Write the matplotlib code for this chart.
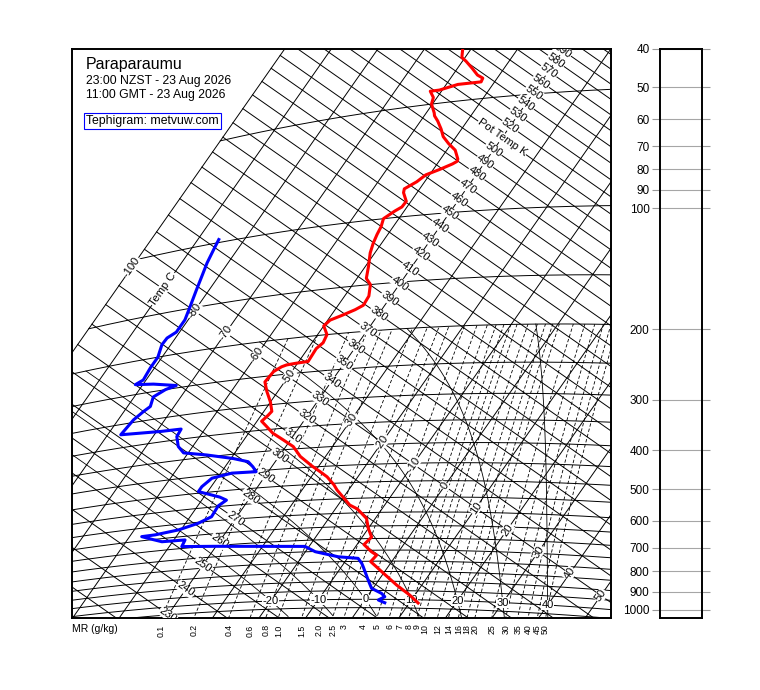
import numpy as np
import matplotlib
matplotlib.use('Agg')
import matplotlib.pyplot as plt

plt.rcParams['font.family'] = ['Liberation Sans', 'DejaVu Sans']

# tephigram geometry: T along one axis, ln(theta) along the other, turned by 35 deg
KAPPA = 0.2857
ANG = np.deg2rad(35.0)
TH_SCALE = 191.5
T_REF, TH_REF = -40.0, 330.0
PX = 3.817   # pixels per chart unit


def xy_t_theta(t, theta):
    u = np.asarray(t, float) - T_REF
    v = TH_SCALE * np.log(np.asarray(theta, float) / TH_REF)
    return u * np.cos(ANG) + v * np.sin(ANG), -u * np.sin(ANG) + v * np.cos(ANG)


def xy_t_p(t, p):
    theta = (np.asarray(t, float) + 273.15) * (1000.0 / np.asarray(p, float)) ** KAPPA
    return xy_t_theta(t, theta)


def dewpoint(e):
    a = np.log(e / 6.112)
    return 243.5 * a / (17.67 - a)


def moist_rate(t, p):
    tk = t + 273.15
    es = 6.112 * np.exp(17.67 * t / (t + 243.5))
    rs = 0.622 * es / (p - es)
    lv = 2.501e6
    return (287.04 * tk + lv * rs) / (1005.7 + lv * lv * rs * 0.622 / (287.04 * tk * tk)) / p


def moist_adiabat(tw, p_top=200.0, p_bot=1100.0, dp=2.0):
    out_p, out_t = [1000.0], [tw]
    for sgn, pend in ((-1, p_top), (1, p_bot)):
        p, t = 1000.0, tw
        ps, ts = [], []
        while (p - pend) * sgn < 0:
            h = sgn * dp
            k1 = moist_rate(t, p)
            k2 = moist_rate(t + h * k1 / 2, p + h / 2)
            k3 = moist_rate(t + h * k2 / 2, p + h / 2)
            k4 = moist_rate(t + h * k3, p + h)
            t += h * (k1 + 2 * k2 + 2 * k3 + k4) / 6
            p += h
            ps.append(p)
            ts.append(t)
        if sgn < 0:
            out_p = ps[::-1] + out_p
            out_t = ts[::-1] + out_t
        else:
            out_p += ps
            out_t += ts
    return np.array(out_t), np.array(out_p)


# sounding (hPa, deg C)
temp_p = [36, 38, 39, 41, 43, 44, 45, 45, 46, 46, 48, 50, 53, 54, 56, 59, 62, 65, 68, 72, 73, 74, 76, 78,
          81, 84, 86, 91, 94, 96, 100, 105, 110, 116, 123, 134, 144, 150, 161, 170, 174, 179, 183, 189, 200,
          210, 217, 234, 235, 236, 238, 244, 259, 275, 295, 313, 320, 331, 342, 359, 376, 394, 420, 447, 464,
          480, 505, 521, 549, 572, 586, 621, 659, 694, 725, 757, 772, 802, 859, 920, 974, 1019]
temp_t = [-61.8, -60.7, -59.3, -56.9, -54.7, -53.1, -52.9, -57.5, -60.6, -62.4, -60.8, -60.2, -58.3, -57.8,
          -56.3, -54.4, -52.8, -50.6, -48.2, -46.3, -46.1, -46.7, -48.6, -50.8, -51.7, -53.3, -52.9, -51.0,
          -51.1, -52.0, -53.3, -52.6, -52.3, -51.8, -51.0, -49.3, -48.0, -46.2, -44.8, -44.6, -45.7, -47.7,
          -49.5, -50.0, -48.0, -47.6, -48.2, -48.0, -50.5, -52.1, -52.9, -53.9, -54.2, -52.4, -50.0, -48.3,
          -48.5, -49.0, -47.3, -44.8, -41.6, -38.4, -35.4, -31.5, -28.9, -26.6, -23.9, -22.5, -19.7, -17.5,
          -15.3, -11.9, -10.0, -8.0, -8.5, -5.8, -4.2, -4.5, 0.0, 4.6, 8.9, 11.9]

dew_p = [98, 104, 113, 123, 134, 148, 161, 173, 178, 185, 200, 213, 229, 234, 238, 246, 250, 259, 275, 282,
         295, 321, 327, 328, 343, 366, 383, 395, 411, 423, 438, 452, 450, 459, 481, 495, 519, 531, 548, 584,
         604, 622, 632, 633, 648, 663, 665, 692, 703, 726, 751, 777, 786, 809, 827, 893, 938, 966, 985, 1004, 1020]
dew_t = [-85.5, -85.1, -84.5, -83.6, -82.7, -81.6, -80.7, -80.7, -81.8, -81.9, -80.9, -80.9, -80.6, -81.6,
         -77.8, -72.7, -74.4, -75.9, -75.1, -75.8, -76.7, -77.2, -69.2, -65.1, -64.9, -63.1, -61.0, -55.7,
         -49.5, -45.8, -44.0, -42.6, -47.6, -51.1, -52.0, -52.0, -46.6, -44.7, -45.6, -45.4, -47.3, -50.5,
         -54.8, -57.4, -54.9, -52.3, -47.6, -47.3, -40.2, -20.9, -17.9, -12.2, -7.7, -6.2, -5.3, -2.3, -0.3,
         2.6, 3.8, 2.9, 4.7]

isotherms = list(range(-100, 70, 10))
isentropes = list(range(200, 700, 10))
isobars = list(range(50, 1100, 50))
mr_values = [0.1, 0.2, 0.4, 0.6, 0.8, 1.0, 1.5, 2.0, 2.5, 3, 4, 5, 6, 7, 8, 9, 10, 12, 14, 16, 18, 20,
             25, 30, 35, 40, 45, 50]
mr_labels = ['0.1', '0.2', '0.4', '0.6', '0.8', '1.0', '1.5', '2.0', '2.5', '3', '4', '5', '6', '7', '8',
             '9', '10', '12', '14', '16', '18', '20', '25', '30', '35', '40', '45', '50']
wet_bulb = [-20, -10, 0, 10, 20, 30, 40]
p_ticks = [40, 50, 60, 70, 80, 90, 100, 200, 300, 400, 500, 600, 700, 800, 900, 1000]

fig = plt.figure(figsize=(7.6, 6.9), dpi=100)
ax = fig.add_axes([71.5 / 760, 72.5 / 690, 539 / 760, 569 / 690])
ax.set_xlim((71.5 - 319.5) / PX, (610.5 - 319.5) / PX)
ax.set_ylim((398.5 - 617.5) / PX, (398.5 - 48.5) / PX)
ax.set_xticks([])
ax.set_yticks([])
for s in ax.spines.values():
    s.set_linewidth(1.4)

grid = dict(color='black', lw=0.7, zorder=1)
for t in isotherms:
    x, y = xy_t_theta([t, t], [150, 900])
    ax.plot(x, y, **grid)
tt = np.linspace(-100, 80, 300)
for th in isentropes:
    x, y = xy_t_theta(tt, np.full_like(tt, th))
    ax.plot(x, y, **grid)
for p in isobars:
    x, y = xy_t_p(tt, np.full_like(tt, p))
    ax.plot(x, y, **grid)

# mixing ratio lines, labelled where they leave the bottom edge
pp = np.linspace(1100, 200, 200)
ybot = ax.get_ylim()[0]
for w, lab in zip(mr_values, mr_labels):
    e = w / 1000 * pp / (0.622 + w / 1000)
    x, y = xy_t_p(dewpoint(e), pp)
    ax.plot(x, y, color='black', lw=0.6, ls=(0, (4, 2.5)), zorder=1)
    ax.text(np.interp(ybot, y, x), -0.012, lab, transform=ax.get_xaxis_transform(),
            rotation=90, ha='center', va='top', fontsize=6.3)
ax.text(0, -0.012, 'MR (g/kg)', transform=ax.transAxes, ha='left', va='top', fontsize=7.5)

for tw in wet_bulb:
    t, p = moist_adiabat(tw)
    x, y = xy_t_p(t, p)
    ax.plot(x, y, color='black', lw=0.6, zorder=1)
    x, y = xy_t_p(tw, 1000)
    ax.text(x, y, str(tw), ha='center', va='center', fontsize=8, zorder=3, clip_on=True,
            bbox=dict(facecolor='white', edgecolor='none', pad=0.3))

box = dict(facecolor='white', edgecolor='none', pad=0.3)
for th in isentropes:
    if th < 230 or th > 590:
        continue
    x, y = xy_t_theta(-40, th)
    ax.text(x, y, 'Pot Temp K' if th == 510 else str(th), rotation=-35, rotation_mode='anchor',
            ha='center', va='center', fontsize=8, zorder=3, clip_on=True, bbox=box)
for t in isotherms:
    if t == -40 or t > 50:
        continue
    x, y = xy_t_theta(t, 330)
    ax.text(x, y, 'Temp C' if t == -90 else str(t), rotation=55, rotation_mode='anchor',
            ha='center', va='center', fontsize=8, zorder=3, clip_on=True, bbox=box)

x, y = xy_t_p(temp_t, temp_p)
ax.plot(x, y, color='#ff0000', lw=2.2, zorder=4, solid_joinstyle='round')
x, y = xy_t_p(dew_t, dew_p)
ax.plot(x, y, color='#0000ff', lw=2.2, zorder=4, solid_joinstyle='round')

fig.text(86 / 760, 1 - 64 / 690, 'Paraparaumu', fontsize=11.5, va='center')
fig.text(86 / 760, 1 - 81 / 690, '23:00 NZST - 23 Aug 2026', fontsize=8.8, va='center')
fig.text(86 / 760, 1 - 95 / 690, '11:00 GMT - 23 Aug 2026', fontsize=8.8, va='center')
fig.text(86 / 760, 1 - 121 / 690, 'Tephigram: metvuw.com', fontsize=8.8, va='center',
         bbox=dict(facecolor='white', edgecolor='blue', lw=0.8, pad=1.5))

# pressure scale panel
rax = fig.add_axes([660 / 760, 72.5 / 690, 42 / 760, 569 / 690])
rax.set_yscale('log')
rax.set_ylim(1044, 40)
rax.set_xlim(0, 1)
rax.set_xticks([])
rax.set_yticks(p_ticks)
rax.set_yticklabels([str(v) for v in p_ticks])
rax.yaxis.set_minor_locator(matplotlib.ticker.NullLocator())
rax.tick_params(axis='y', which='major', direction='out', length=6, color='0.6', width=0.8,
                labelsize=8.5, pad=1.5, right=True)
for v in p_ticks:
    rax.axhline(v, color='0.65', lw=0.8)
for s in rax.spines.values():
    s.set_linewidth(1.4)

fig.savefig('out.png')
